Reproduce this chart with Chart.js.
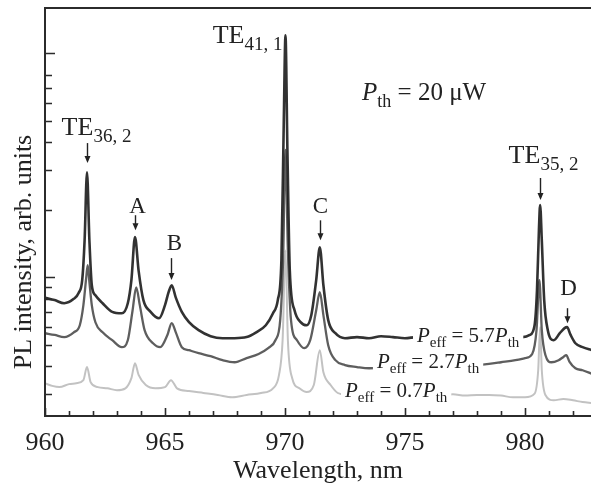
<!DOCTYPE html>
<html>
<head>
<meta charset="utf-8">
<script src="https://cdn.jsdelivr.net/npm/chart.js@4.4.1/dist/chart.umd.min.js"></script>
<style>
  html, body { margin: 0; padding: 0; background: #fff; }
  #plChart { display: block; }
</style>
</head>
<body>
<canvas id="plChart" width="591" height="487"></canvas>
<script>
// PL spectra: wavelength (nm) and intensity (arb. units, log axis)
const wlHigh = [960.0, 960.4, 960.8, 961.2, 961.4, 961.55, 961.65, 961.75, 961.85, 961.95, 962.1, 962.4, 962.8, 963.2, 963.45, 963.6, 963.75, 963.9, 964.1, 964.4, 964.75, 965.0, 965.15, 965.28, 965.45, 965.7, 966.0, 966.4, 966.9, 967.4, 967.9, 968.4, 968.8, 969.2, 969.5, 969.7, 969.85, 969.95, 970.02, 970.1, 970.2, 970.4, 970.65, 970.9, 971.1, 971.3, 971.45, 971.6, 971.8, 972.1, 972.5, 973.0, 973.5, 974.0, 974.5, 975.0, 975.5, 976.5, 977.5, 978.5, 979.5, 979.9, 980.2, 980.4, 980.5, 980.58, 980.63, 980.7, 980.8, 980.95, 981.2, 981.45, 981.65, 981.75, 981.9, 982.1, 982.4, 982.8];
const plHigh = [0.81, 0.79, 0.765, 0.80, 0.85, 0.97, 1.46, 2.94, 1.46, 0.92, 0.83, 0.765, 0.70, 0.69, 0.765, 0.97, 1.51, 1.07, 0.79, 0.70, 0.655, 0.75, 0.857, 0.92, 0.81, 0.70, 0.63, 0.58, 0.545, 0.534, 0.534, 0.54, 0.567, 0.61, 0.69, 0.79, 1.19, 5.0, 12.0, 3.7, 1.07, 0.71, 0.63, 0.61, 0.68, 0.97, 1.36, 0.92, 0.643, 0.562, 0.534, 0.54, 0.534, 0.545, 0.54, 0.534, 0.54, 0.54, 0.535, 0.54, 0.54, 0.54, 0.552, 0.61, 0.875, 1.62, 2.10, 1.46, 0.79, 0.58, 0.523, 0.562, 0.592, 0.598, 0.552, 0.507, 0.487, 0.472];

const wlMid = [960.0, 960.4, 960.8, 961.2, 961.45, 961.6, 961.72, 961.78, 961.85, 961.95, 962.1, 962.4, 962.8, 963.2, 963.45, 963.65, 963.8, 963.95, 964.15, 964.5, 964.8, 965.1, 965.28, 965.45, 965.7, 966.0, 966.4, 966.9, 967.4, 967.9, 968.4, 968.9, 969.3, 969.6, 969.8, 969.92, 970.02, 970.12, 970.25, 970.5, 970.8, 971.05, 971.3, 971.45, 971.6, 971.8, 972.1, 972.5, 973.0, 973.5, 974.5, 975.5, 976.5, 977.5, 978.5, 979.0, 979.6, 980.0, 980.3, 980.48, 980.6, 980.7, 980.85, 981.1, 981.4, 981.6, 981.72, 981.85, 982.1, 982.4, 982.8];
const plMid = [0.562, 0.552, 0.54, 0.567, 0.61, 0.75, 1.0, 1.13, 0.95, 0.75, 0.629, 0.567, 0.523, 0.487, 0.523, 0.712, 0.90, 0.75, 0.58, 0.507, 0.487, 0.552, 0.624, 0.567, 0.487, 0.472, 0.458, 0.444, 0.426, 0.417, 0.435, 0.454, 0.482, 0.523, 0.643, 1.19, 3.7, 1.32, 0.643, 0.523, 0.482, 0.523, 0.712, 0.857, 0.677, 0.497, 0.426, 0.405, 0.397, 0.392, 0.395, 0.392, 0.395, 0.40, 0.41, 0.417, 0.426, 0.435, 0.454, 0.58, 0.97, 0.58, 0.449, 0.417, 0.426, 0.44, 0.449, 0.42, 0.392, 0.384, 0.37];

const wlLow = [960.0, 960.3, 960.6, 961.0, 961.3, 961.6, 961.75, 961.9, 962.2, 962.6, 963.0, 963.35, 963.6, 963.75, 963.9, 964.2, 964.6, 965.0, 965.25, 965.5, 966.0, 966.6, 967.2, 967.8, 968.4, 969.0, 969.5, 969.75, 969.9, 970.02, 970.12, 970.3, 970.6, 970.9, 971.2, 971.45, 971.6, 971.9, 972.2, 972.6, 973.5, 974.5, 975.5, 976.5, 977.0, 977.5, 978.0, 978.5, 979.0, 979.5, 980.0, 980.4, 980.55, 980.63, 980.7, 980.85, 981.2, 981.6, 982.0, 982.4, 982.8];
const plLow = [0.336, 0.327, 0.323, 0.333, 0.336, 0.347, 0.397, 0.34, 0.323, 0.319, 0.313, 0.319, 0.354, 0.413, 0.366, 0.33, 0.319, 0.323, 0.347, 0.319, 0.31, 0.304, 0.298, 0.291, 0.298, 0.304, 0.319, 0.366, 0.523, 1.32, 0.523, 0.354, 0.319, 0.307, 0.33, 0.472, 0.376, 0.33, 0.304, 0.298, 0.296, 0.298, 0.296, 0.298, 0.30, 0.296, 0.298, 0.298, 0.296, 0.291, 0.291, 0.302, 0.384, 0.598, 0.384, 0.298, 0.282, 0.286, 0.282, 0.277, 0.274];

// axis ticks
const xTickValues = [960, 965, 970, 975, 980];
const xMinorTicks = [960, 961, 962, 963, 964, 965, 966, 967, 968, 969, 970, 971, 972, 973, 974, 975, 976, 977, 978, 979, 980, 981, 982];
const yTickValues = [0.3, 0.4, 0.5, 0.6, 0.7, 0.8, 0.9, 1, 2, 3, 4, 5, 6, 7, 8, 10];
const yMajorTicks = [1, 10];

// text annotations, anchored in data units
const peakLabels = [
  { text: 'TE', sub: '36, 2', wl: 961.75, val: 3.23, arrow: 20, gap: 8, dx: 9 },
  { text: 'A', wl: 963.75, val: 1.62, arrow: 15, gap: 2, dx: 2 },
  { text: 'B', wl: 965.25, val: 0.97, arrow: 22, gap: 8, dx: 3 },
  { text: 'C', wl: 971.46, val: 1.46, arrow: 20, gap: 7, dx: 0 },
  { text: 'TE', sub: '35, 2', wl: 980.63, val: 2.21, arrow: 22, gap: 15, dx: 3 },
  { text: 'D', wl: 981.75, val: 0.623, arrow: 15, gap: 13, dx: 1 }
];
const curveLabels = [
  { pow: '5.7', wl: 975.5, val: 0.512 },
  { pow: '2.7', wl: 973.83, val: 0.393 },
  { pow: '0.7', wl: 972.5, val: 0.291 }
];

const SERIF = '"Liberation Serif", "Times New Roman", serif';
const INK = '#222';

function toXY(xs, ys) {
  return xs.map((x, i) => ({ x, y: ys[i] }));
}

// draws a run of text pieces: {t, i: italic, s: subscript}
function drawRich(ctx, parts, x, y, size, subSize, align) {
  const fontOf = p => `${p.i ? 'italic ' : ''}${p.s ? subSize : size}px ${SERIF}`;
  let w = 0;
  parts.forEach(p => { ctx.font = fontOf(p); w += ctx.measureText(p.t).width; });
  let cx = align === 'center' ? x - w / 2 : align === 'right' ? x - w : x;
  const left = cx;
  ctx.textAlign = 'left';
  ctx.textBaseline = 'alphabetic';
  parts.forEach(p => {
    ctx.font = fontOf(p);
    ctx.fillText(p.t, cx, y + (p.s ? Math.round(size * 0.26) : 0));
    cx += ctx.measureText(p.t).width;
  });
  return { left, width: w };
}

function drawArrow(ctx, x, yTop, yTip) {
  ctx.strokeStyle = INK;
  ctx.fillStyle = INK;
  ctx.lineWidth = 1.4;
  ctx.beginPath();
  ctx.moveTo(x, yTop);
  ctx.lineTo(x, yTip - 5);
  ctx.stroke();
  ctx.beginPath();
  ctx.moveTo(x - 3, yTip - 7);
  ctx.lineTo(x + 3, yTip - 7);
  ctx.lineTo(x, yTip);
  ctx.closePath();
  ctx.fill();
}

const figureOverlay = {
  id: 'figureOverlay',
  beforeDraw(chart) {
    const ctx = chart.ctx;
    ctx.save();
    ctx.fillStyle = '#fff';
    ctx.fillRect(0, 0, chart.width, chart.height);
    ctx.restore();
  },
  afterDatasetsDraw(chart) {
    const { ctx, scales: { x, y } } = chart;
    ctx.save();
    ctx.fillStyle = INK;

    // P_eff labels sit on white boxes over the curves
    curveLabels.forEach(c => {
      const px = x.getPixelForValue(c.wl);
      const py = y.getPixelForValue(c.val);
      const parts = [{ t: 'P', i: true }, { t: 'eff', s: true }, { t: ' = ' + c.pow }, { t: 'P', i: true }, { t: 'th', s: true }];
      ctx.globalAlpha = 0;
      const m = drawRich(ctx, parts, px, py, 21, 15, 'left');
      ctx.globalAlpha = 1;
      ctx.fillStyle = '#fff';
      ctx.fillRect(m.left - 4, py - 16, m.width + 8, 23);
      ctx.fillStyle = INK;
      drawRich(ctx, parts, px, py, 21, 15, 'left');
    });

    // peak markers with arrows
    peakLabels.forEach(p => {
      const px = Math.round(x.getPixelForValue(p.wl)) + 0.5;
      const tip = y.getPixelForValue(p.val);
      const top = tip - p.arrow;
      drawArrow(ctx, px, top, tip);
      ctx.fillStyle = INK;
      const parts = p.sub ? [{ t: p.text }, { t: p.sub, s: true }] : [{ t: p.text }];
      const size = p.sub ? 26 : 23;
      drawRich(ctx, parts, px + p.dx, top - p.gap, size, 19, 'center');
    });

    // TE41,1 label left of the main peak
    const mainX = x.getPixelForValue(970.02);
    const mainY = y.getPixelForValue(12.0);
    drawRich(ctx, [{ t: 'TE' }, { t: '41, 1', s: true }], mainX - 3, mainY + 8, 26, 19, 'right');

    // threshold power
    drawRich(ctx, [{ t: 'P', i: true }, { t: 'th', s: true }, { t: ' = 20 \u03bcW' }],
      x.getPixelForValue(973.21), y.getPixelForValue(6.17), 25, 18, 'left');
    ctx.restore();
  },
  afterDraw(chart) {
    const { ctx, chartArea: a, scales: { x, y } } = chart;
    ctx.save();
    ctx.strokeStyle = '#2b2b2b';
    ctx.lineWidth = 2;
    ctx.beginPath();
    ctx.moveTo(a.right, a.top);
    ctx.lineTo(a.left, a.top);
    ctx.lineTo(a.left, a.bottom);
    ctx.lineTo(a.right, a.bottom);
    ctx.stroke();

    // inward tick marks
    ctx.lineWidth = 1.6;
    ctx.beginPath();
    xMinorTicks.forEach(v => {
      const px = Math.round(x.getPixelForValue(v)) + 0.5;
      const len = xTickValues.includes(v) ? 8 : 5;
      ctx.moveTo(px, a.bottom);
      ctx.lineTo(px, a.bottom - len);
    });
    y.ticks.forEach(t => {
      const py = Math.round(y.getPixelForValue(t.value)) + 0.5;
      const len = yMajorTicks.includes(t.value) ? 10 : 7;
      ctx.moveTo(a.left, py);
      ctx.lineTo(a.left + len, py);
    });
    ctx.stroke();

    // y-axis title
    ctx.fillStyle = INK;
    ctx.font = `26px ${SERIF}`;
    ctx.textAlign = 'center';
    ctx.textBaseline = 'alphabetic';
    ctx.translate(31, 252);
    ctx.rotate(-Math.PI / 2);
    ctx.fillText('PL intensity, arb. units', 0, 0);
    ctx.restore();
  }
};

const ctx = document.getElementById('plChart').getContext('2d');
new Chart(ctx, {
  type: 'line',
  data: {
    datasets: [
      { label: 'Peff = 5.7 Pth', data: toXY(wlHigh, plHigh), borderColor: 'rgba(28,28,28,0.9)', borderWidth: 2.6 },
      { label: 'Peff = 2.7 Pth', data: toXY(wlMid, plMid), borderColor: 'rgba(72,72,72,0.88)', borderWidth: 2.3 },
      { label: 'Peff = 0.7 Pth', data: toXY(wlLow, plLow), borderColor: '#c2c2c2', borderWidth: 2 }
    ]
  },
  options: {
    responsive: false,
    animation: false,
    layout: { padding: { top: 8, right: 0, left: 0, bottom: 0 } },
    elements: { point: { radius: 0 }, line: { cubicInterpolationMode: 'monotone', borderJoinStyle: 'round' } },
    plugins: { legend: { display: false }, tooltip: { enabled: false } },
    scales: {
      x: {
        type: 'linear', min: 960, max: 982.75, bounds: 'data',
        afterBuildTicks: s => { s.ticks = xTickValues.map(v => ({ value: v })); },
        afterFit: s => { s.height = 71; },
        grid: { display: false, drawTicks: false },
        border: { display: false },
        ticks: { font: { family: SERIF, size: 26 }, color: INK, padding: 12, maxRotation: 0, autoSkip: false },
        title: { display: true, text: 'Wavelength, nm', font: { family: SERIF, size: 26 }, color: INK, padding: { top: 0, bottom: 0 } }
      },
      y: {
        type: 'logarithmic', min: 0.24, max: 15.9, bounds: 'data',
        afterBuildTicks: s => { s.ticks = yTickValues.map(v => ({ value: v })); },
        afterFit: s => { s.width = 45; },
        grid: { display: false, drawTicks: false },
        border: { display: false },
        ticks: { display: false }
      }
    }
  },
  plugins: [figureOverlay]
});
</script>
</body>
</html>
